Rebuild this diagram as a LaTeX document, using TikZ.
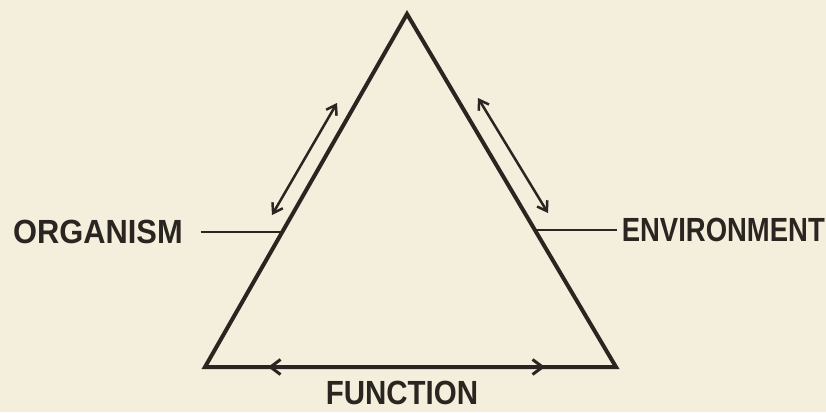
\documentclass[tikz,border=0pt]{standalone}
\usepackage{fontspec}
\setmainfont{Liberation Sans}
\usetikzlibrary{arrows.meta}
\definecolor{paper}{HTML}{F4EEDC}
\definecolor{ink}{HTML}{2A2520}
\begin{document}
\begin{tikzpicture}[x=1pt,y=-1pt,
  side/.style={draw=ink,line width=4pt,line join=miter},
  dbl/.style={draw=ink,line width=2.5pt,{Straight Barb[length=9pt,width=12pt]}-{Straight Barb[length=9pt,width=12pt]}},
  baseArrow/.style={draw=ink,line width=3pt,-{Straight Barb[length=10pt,width=15pt]}},
  tick/.style={draw=ink,line width=2.5pt},
  lbl/.style={text=ink,font=\bfseries\fontsize{33.5}{35}\selectfont,inner sep=0pt}]
\fill[paper] (0,0) rectangle (826,412);
\useasboundingbox (0,0) rectangle (826,412);
\coordinate (top) at (407,14);
\coordinate (bl) at (205,367);
\coordinate (br) at (616,367);
\draw[side] (top) -- (bl) -- (br) -- cycle;
% side double arrows
\coordinate (la1) at (337,103);
\coordinate (la2) at (272,215);
\coordinate (ra1) at (478,98);
\coordinate (ra2) at (548,213);
\draw[dbl] (la1) -- (la2);
\draw[dbl] (ra1) -- (ra2);
% base arrows
\coordinate (mid) at (407,367);
\coordinate (bla) at (268,367);
\coordinate (bra) at (545,367);
\draw[baseArrow] (mid) -- (bla);
\draw[baseArrow] (mid) -- (bra);
% labels
\node[lbl,anchor=west] (org) at (13,232) {\scalebox{0.92}[1]{ORGANISM}};
\node[lbl,anchor=east] (env) at (825,230) {\scalebox{0.82}[1]{ENVIRONMENT}};
\node[lbl] (fun) at (402,393) {\scalebox{0.88}[1]{FUNCTION}};
\coordinate (ol) at (283,232);
\coordinate (el) at (537,230);
\draw[tick] ([xshift=18pt]org.east) -- (ol);
\draw[tick] ([xshift=-5pt]env.west) -- (el);
\end{tikzpicture}
\end{document}
